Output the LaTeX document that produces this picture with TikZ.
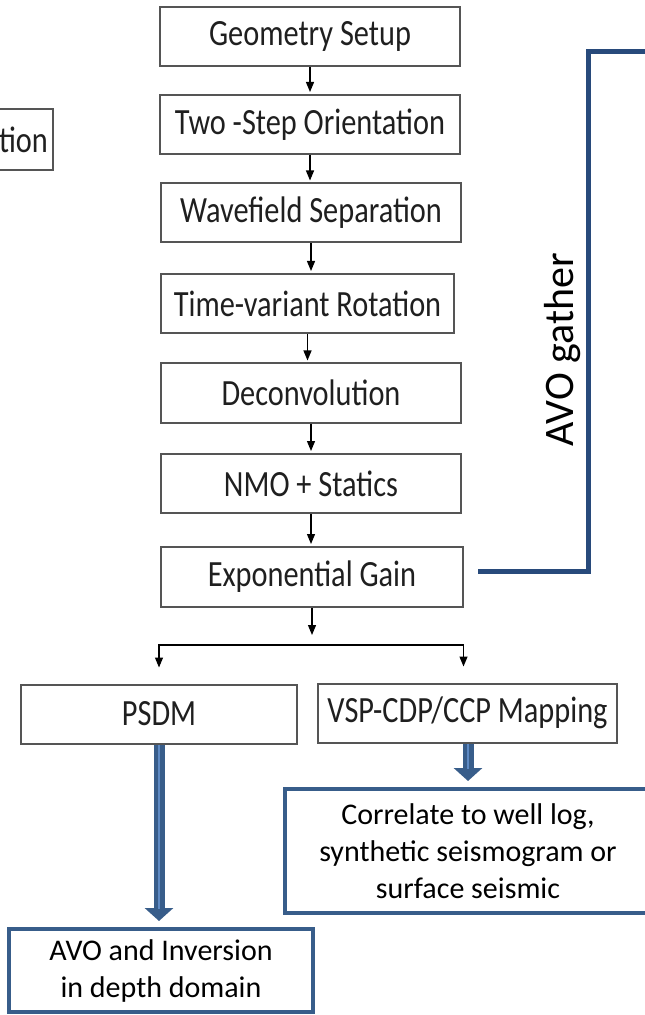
\documentclass[tikz,border=0pt]{standalone}
\usepackage{fontspec}
\setmainfont{Carlito}
\newfontfamily\serre[FakeStretch=0.82]{Carlito}
\usepackage{xcolor}
\usepackage{tikz}
\usetikzlibrary{arrows.meta,positioning,calc}
\definecolor{gris}{HTML}{555555}
\definecolor{bleuavo}{HTML}{385D8A}
\definecolor{bleuclair}{HTML}{5E8AC4}
\definecolor{bleutrait}{HTML}{284A7B}

\begin{document}
\begin{tikzpicture}[x=0.5pt,y=-0.5pt,
    etape/.style  = {draw=gris,line width=1pt,minimum width=150pt,minimum height=29.5pt,
                     inner sep=0pt,font=\serre\fontsize{18.5}{22}\selectfont,text=black!88},
    cadre/.style  = {draw=bleuavo,line width=2pt,inner sep=0pt,align=center,
                     font=\fontsize{15}{18.5}\selectfont},
    fleche/.style = {line width=0.6pt,-{Triangle[width=4pt,length=5pt]},shorten >=1pt},
    grosse/.style = {line width=5.5pt,draw=bleuavo,-{Triangle[width=14pt,length=6.5pt]},shorten >=3pt,
                     postaction={draw=bleuclair,line width=1.4pt,-,shorten >=9pt}},
  ]
  \useasboundingbox (0,0) rectangle (644,1015);

  % Chaine de traitement
  \node[etape] (geom)   at (310,36.5)  {Geometry Setup};
  \node[etape] (orient) at (310,124.5) {Two -Step Orientation};
  \node[etape] (sep)    at (311,213)   {Wavefield Separation};
  \node[etape,minimum width=146.5pt] (rot) at (307.5,303.5) {Time-variant Rotation};
  \node[etape] (decon)  at (311,393)   {Deconvolution};
  \node[etape] (nmo)    at (311,483.5) {NMO + Statics};
  \node[etape,minimum width=151pt,minimum height=30pt] (gain) at (312,577) {Exponential Gain};
  \node[etape,minimum width=29pt,minimum height=30.5pt] (tion) at (23.5,139.5) {tion};

  \foreach \haut/\bas in {geom/orient,orient/sep,sep/rot,rot/decon,decon/nmo,nmo/gain}
    \draw[fleche] (\haut.south) -- (\haut.south |- \bas.north);

  % Branches
  \node[etape,minimum width=138pt]   (psdm) at (159,714)   {PSDM};
  \node[etape,minimum width=149.5pt] (vsp)  at (467.5,713) {VSP-CDP/CCP Mapping};

  \coordinate (fourche) at (0,645);
  \coordinate (entree)  at ($(gain.south)+(0,29)$);
  \coordinate (gaucheB) at ($(psdm.north)+(0,-16)$);
  \coordinate (droiteB) at ($(vsp.north)+(-4,-16)$);
  \draw[fleche] (gain.south) -- (entree);
  \draw[line width=0.6pt,{Triangle[width=4pt,length=5pt]}-{Triangle[width=4pt,length=5pt]}]
    (gaucheB) -- (gaucheB |- fourche) -- (droiteB |- fourche) -- (droiteB);

  % Resultats
  \node[cadre,minimum width=152pt,minimum height=41.5pt] (avo) at (161,970.5)
    {AVO and Inversion\\in depth domain};
  \node[cadre,minimum width=183pt,minimum height=62pt] (corr) at (468,851)
    {Correlate to well log,\\synthetic seismogram or\\surface seismic};

  \draw[grosse] (psdm.south) -- (psdm.south |- avo.north);
  \draw[grosse] (corr.north |- vsp.south) -- (corr.north);

  % Sortie AVO gather
  \coordinate (depart) at ($(gain.east)+(14,-6)$);
  \coordinate (coude)  at (588,52);
  \coordinate (sortie) at (650,52);
  \draw[bleutrait,line width=2.5pt] (depart) -| (coude) -- (sortie);
  \node[rotate=90,font=\fontsize{21}{25}\selectfont] (avolab) at (563,350) {AVO gather};

\end{tikzpicture}
\end{document}
